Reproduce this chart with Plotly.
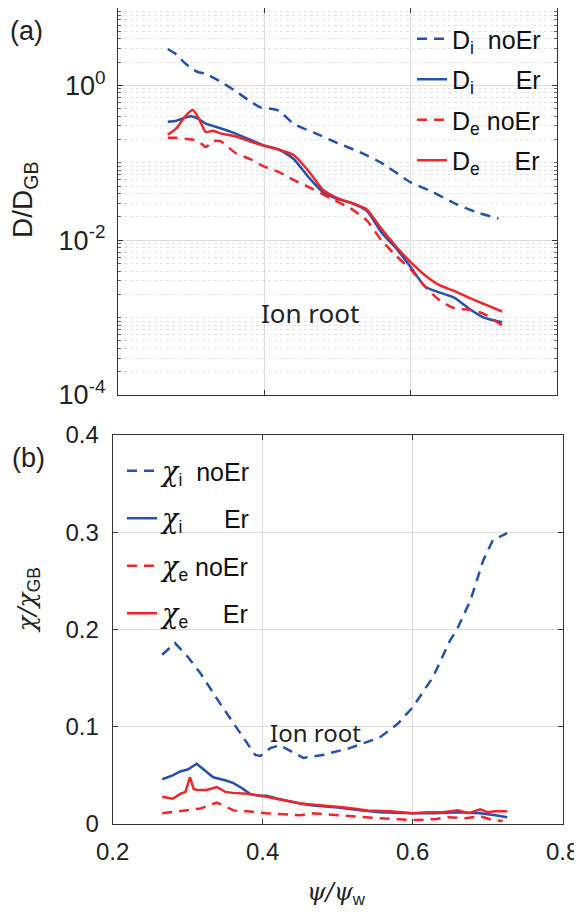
import plotly.graph_objects as go

# ---------------- data: panel (a) ----------------
di_noer_x = [0.268, 0.28, 0.29, 0.30, 0.31, 0.32, 0.34, 0.36, 0.38, 0.395, 0.41, 0.42, 0.44, 0.47, 0.50, 0.53, 0.56, 0.60, 0.63, 0.66, 0.69, 0.72]
di_noer_y = [2.95, 2.5, 2.0, 1.66, 1.48, 1.41, 1.12, 0.85, 0.63, 0.52, 0.50, 0.47, 0.32, 0.24, 0.18, 0.138, 0.10, 0.056, 0.042, 0.030, 0.023, 0.019]

di_er_x = [0.268, 0.28, 0.29, 0.30, 0.31, 0.32, 0.34, 0.36, 0.38, 0.40, 0.42, 0.44, 0.46, 0.48, 0.50, 0.52, 0.54, 0.56, 0.58, 0.60, 0.62, 0.64, 0.66, 0.68, 0.70, 0.725]
di_er_y = [0.34, 0.35, 0.38, 0.40, 0.37, 0.32, 0.28, 0.24, 0.20, 0.166, 0.148, 0.112, 0.066, 0.042, 0.034, 0.030, 0.024, 0.0126, 0.0079, 0.0045, 0.0025, 0.0021, 0.0018, 0.0013, 0.0010, 0.00087]

de_noer_x = [0.268, 0.28, 0.30, 0.31, 0.32, 0.33, 0.34, 0.36, 0.38, 0.40, 0.42, 0.44, 0.46, 0.49, 0.52, 0.54, 0.56, 0.58, 0.60, 0.62, 0.64, 0.66, 0.68, 0.70, 0.725]
de_noer_y = [0.21, 0.21, 0.20, 0.19, 0.16, 0.19, 0.19, 0.135, 0.112, 0.089, 0.076, 0.060, 0.049, 0.035, 0.025, 0.018, 0.010, 0.0063, 0.0042, 0.0025, 0.00166, 0.00132, 0.00126, 0.00112, 0.00079]

de_er_x = [0.268, 0.28, 0.29, 0.302, 0.31, 0.32, 0.33, 0.34, 0.36, 0.38, 0.40, 0.42, 0.44, 0.46, 0.48, 0.50, 0.52, 0.54, 0.56, 0.58, 0.60, 0.62, 0.64, 0.66, 0.68, 0.70, 0.725]
de_er_y = [0.23, 0.28, 0.38, 0.48, 0.38, 0.25, 0.26, 0.24, 0.22, 0.19, 0.166, 0.148, 0.126, 0.079, 0.045, 0.035, 0.030, 0.025, 0.014, 0.0083, 0.0052, 0.0035, 0.0026, 0.0022, 0.0018, 0.0015, 0.0012]

# ---------------- data: panel (b) ----------------
xi_noer_x = [0.266, 0.283, 0.30, 0.317, 0.343, 0.37, 0.39, 0.397, 0.41, 0.423, 0.44, 0.454, 0.48, 0.516, 0.556, 0.58, 0.60, 0.627, 0.65, 0.659, 0.677, 0.694, 0.707, 0.726]
xi_noer_y = [0.174, 0.186, 0.172, 0.155, 0.124, 0.094, 0.071, 0.070, 0.078, 0.081, 0.074, 0.068, 0.071, 0.078, 0.089, 0.103, 0.120, 0.151, 0.189, 0.200, 0.230, 0.271, 0.292, 0.299]

xi_er_x = [0.266, 0.28, 0.29, 0.30, 0.312, 0.32, 0.334, 0.35, 0.361, 0.372, 0.383, 0.395, 0.405, 0.42, 0.45, 0.467, 0.50, 0.53, 0.556, 0.60, 0.63, 0.66, 0.69, 0.71, 0.726]
xi_er_y = [0.046, 0.050, 0.054, 0.056, 0.062, 0.057, 0.048, 0.045, 0.042, 0.037, 0.031, 0.029, 0.029, 0.026, 0.021, 0.019, 0.017, 0.014, 0.012, 0.011, 0.011, 0.012, 0.011, 0.009, 0.007]

xe_noer_x = [0.266, 0.29, 0.317, 0.339, 0.361, 0.38, 0.405, 0.45, 0.467, 0.50, 0.53, 0.556, 0.58, 0.60, 0.63, 0.647, 0.67, 0.69, 0.707, 0.72]
xe_noer_y = [0.011, 0.013, 0.016, 0.022, 0.014, 0.013, 0.011, 0.009, 0.011, 0.009, 0.007, 0.006, 0.005, 0.004, 0.005, 0.007, 0.006, 0.008, 0.004, 0.003]

xe_er_x = [0.266, 0.28, 0.29, 0.297, 0.303, 0.308, 0.312, 0.325, 0.339, 0.35, 0.36, 0.38, 0.405, 0.43, 0.45, 0.48, 0.51, 0.54, 0.57, 0.60, 0.62, 0.64, 0.66, 0.675, 0.69, 0.70, 0.71, 0.726]
xe_er_y = [0.028, 0.026, 0.031, 0.033, 0.048, 0.036, 0.035, 0.035, 0.038, 0.033, 0.032, 0.031, 0.028, 0.024, 0.021, 0.019, 0.017, 0.014, 0.013, 0.011, 0.012, 0.012, 0.014, 0.011, 0.015, 0.012, 0.013, 0.013]

x_ticks = [0.2, 0.4, 0.6, 0.8]
x_ticktext = ["0.2", "0.4", "0.6", "0.8"]
ya_ticks = [1e-4, 1e-2, 1e0]
ya_ticktext = ["10<sup>-4</sup>", "10<sup>-2</sup>", "10<sup>0</sup>"]
yb_ticks = [0, 0.1, 0.2, 0.3, 0.4]
yb_ticktext = ["0", "0.1", "0.2", "0.3", "0.4"]

BLUE = "#2251b0"
RED = "#f0252b"
# the page body has an 8px margin: lay out in window pixels, shifted by it
OFF = 8
W = 574
H = 900
SANS = "Liberation Sans, Arial, sans-serif"
DASH = "10px,7px"
NB = "\u00a0"


def px(X):
    return (X - OFF) / W


def py(Y):
    return 1 - (Y - OFF) / H


def chi(sub):
    return ('<span style="font-family:DejaVu Serif;font-style:italic;font-size:27px">χ</span>'
            f'<sub>{sub}</sub>')


fig = go.Figure()

top = [
    (di_noer_x, di_noer_y, BLUE, DASH, "D<sub>i</sub>" + NB * 2 + "noEr"),
    (di_er_x, di_er_y, BLUE, "solid", "D<sub>i</sub>" + NB * 6 + "Er"),
    (de_noer_x, de_noer_y, RED, DASH, "D<sub>e</sub>" + NB * 1 + "noEr"),
    (de_er_x, de_er_y, RED, "solid", "D<sub>e</sub>" + NB * 5 + "Er"),
]
for i, (x, y, c, d, name) in enumerate(top):
    fig.add_trace(go.Scatter(x=x, y=y, mode="lines", name=name,
                             line=dict(color=c, width=2.5, dash=d, shape="spline", smoothing=0.6),
                             xaxis="x", yaxis="y", legend="legend", legendgroup=f"a{i}"))

bot = [
    (xi_noer_x, xi_noer_y, BLUE, DASH, chi("i") + NB * 2 + "noEr"),
    (xi_er_x, xi_er_y, BLUE, "solid", chi("i") + NB * 6 + "Er"),
    (xe_noer_x, xe_noer_y, RED, DASH, chi("e") + NB * 1 + "noEr"),
    (xe_er_x, xe_er_y, RED, "solid", chi("e") + NB * 5 + "Er"),
]
for i, (x, y, c, d, name) in enumerate(bot):
    fig.add_trace(go.Scatter(x=x, y=y, mode="lines", name=name,
                             line=dict(color=c, width=2.5, dash=d),
                             xaxis="x2", yaxis="y2", legend="legend2", legendgroup=f"b{i}"))

minor_vals = []
for e in range(-4, 1):
    for m in range(2, 10):
        minor_vals.append(m * 10.0 ** e)
    if e in (-3, -1):
        minor_vals.append(10.0 ** e)

axcommon = dict(showline=True, linecolor="#333333", linewidth=1.3, mirror="ticks",
                ticks="inside", ticklen=5, tickcolor="#333333", zeroline=False,
                showgrid=True, gridcolor="#dcdcdc", gridwidth=1, automargin=False,
                ticklabeloverflow="allow")

fig.update_layout(
    width=W, height=H,
    margin=dict(l=0, r=0, t=0, b=0),
    paper_bgcolor="white", plot_bgcolor="white",
    font=dict(family=SANS, color="#222222", size=20),
    xaxis=dict(domain=[px(118), px(557)], range=[0.2, 0.8], tickvals=x_ticks,
               showticklabels=False, anchor="y", **axcommon),
    yaxis=dict(domain=[py(395), 1.0], type="log", range=[-4, 1],
               tickvals=ya_ticks, ticktext=ya_ticktext, anchor="x",
               tickfont=dict(size=27, family=SANS, color="#222222"), ticklabelstandoff=6,
               minor=dict(tickvals=minor_vals, ticks="inside", ticklen=3, tickcolor="#666666",
                          showgrid=True, griddash="dot", gridcolor="#e3e3e3", gridwidth=1),
               **axcommon),
    xaxis2=dict(domain=[px(112.7), px(562.7)], range=[0.2, 0.8], tickvals=x_ticks,
                ticktext=x_ticktext, anchor="y2",
                tickfont=dict(size=24, family=SANS, color="#222222"), ticklabelstandoff=6,
                **axcommon),
    yaxis2=dict(domain=[py(824), py(435)], range=[0, 0.4], tickvals=yb_ticks,
                ticktext=yb_ticktext, anchor="x2",
                tickfont=dict(size=24, family=SANS, color="#222222"), ticklabelstandoff=8,
                **axcommon),
    legend=dict(x=px(412), y=py(16), xanchor="left", yanchor="top",
                bgcolor="rgba(255,255,255,0)", borderwidth=0,
                font=dict(size=25, family=SANS, color="#111111"),
                tracegroupgap=5, itemwidth=30),
    legend2=dict(x=px(122), y=py(448), xanchor="left", yanchor="top",
                 bgcolor="rgba(255,255,255,0)", borderwidth=0,
                 font=dict(size=25, family=SANS, color="#111111"),
                 tracegroupgap=12, itemwidth=30),
    showlegend=True,
)

ann = [
    dict(text="(a)", x=26, y=31, size=27, family=SANS),
    dict(text="(b)", x=28, y=458, size=27, family=SANS),
    dict(text="Ion root", x=310, y=313, size=26, family="Noto Sans"),
    dict(text="Ion root", x=315, y=732, size=24, family="Noto Sans"),
]
for a in ann:
    fig.add_annotation(text=a["text"], x=px(a["x"]), y=py(a["y"]), xref="paper", yref="paper",
                       showarrow=False, xanchor="center", yanchor="middle",
                       font=dict(size=a["size"], family=a["family"], color="#222222"))

fig.add_annotation(text="D/D<sub>GB</sub>", x=px(24), y=py(200), xref="paper", yref="paper",
                   showarrow=False, textangle=-90, xanchor="center", yanchor="middle",
                   font=dict(size=28, family=SANS, color="#222222"))
fig.add_annotation(text='<span style="font-family:DejaVu Serif;font-style:italic">χ/χ</span><sub>GB</sub>',
                   x=px(28), y=py(600), xref="paper", yref="paper",
                   showarrow=False, textangle=-90, xanchor="center", yanchor="middle",
                   font=dict(size=25, family=SANS, color="#222222"))
fig.add_annotation(text='<span style="font-family:DejaVu Serif;font-style:italic">ψ/ψ</span><sub>w</sub>',
                   x=px(336), y=py(893), xref="paper", yref="paper",
                   showarrow=False, xanchor="center", yanchor="middle",
                   font=dict(size=24, family=SANS, color="#222222"))

fig.write_html("out.html")
